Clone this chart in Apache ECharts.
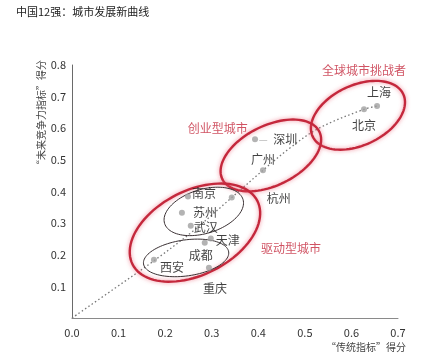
<!DOCTYPE html>
<html><head><meta charset="utf-8">
<script src="https://cdn.jsdelivr.net/npm/echarts@6/dist/echarts.min.js"></script>
<style>html,body{margin:0;padding:0;background:#fff}#c{width:440px;height:357px}</style>
</head><body><div id="c"></div>
<script>
// ---- data ----
const cities = ['上海','北京','深圳','广州','杭州','南京','苏州','武汉','天津','成都','西安','重庆'];
const traditionalScore = [0.655,0.627,0.393,0.410,0.343,0.249,0.236,0.255,0.298,0.285,0.176,0.294];
const futureScore      = [0.670,0.660,0.565,0.467,0.381,0.384,0.333,0.292,0.251,0.238,0.184,0.159];
const trendX = [0, 0.09, 0.176, 0.26, 0.343, 0.41, 0.47, 0.53, 0.627, 0.655];
const trendY = [0, 0.092, 0.181, 0.275, 0.381, 0.467, 0.54, 0.60, 0.66, 0.67];
const xTicks = [0,0.1,0.2,0.3,0.4,0.5,0.6,0.7];
const yTicks = [0.1,0.2,0.3,0.4,0.5,0.6,0.7,0.8];
const groupNames = ['全球城市挑战者','创业型城市','驱动型城市'];
const groupX = [0.627, 0.313, 0.470];
const groupY = [0.784, 0.600, 0.219];

// ---- styling / annotation config ----
const labelOffsets = {
  '上海':[2,-14],'北京':[0,16],'深圳':[23,0],'广州':[0,-11],'杭州':[47,1],'南京':[16,-3],
  '苏州':[23,0],'武汉':[15,2],'天津':[17,2],'成都':[-4,13],'西安':[18,8],'重庆':[6,21]
};
const ellipses = [
  {cx:0.614, cy:0.641, rx:50, ry:30, rot:25, red:true},
  {cx:0.427, cy:0.514, rx:54, ry:30, rot:26, red:true},
  {cx:0.264, cy:0.270, rx:70, ry:42, rot:27, red:true},
  {cx:0.283, cy:0.337, rx:41, ry:22, rot:17, red:false},
  {cx:0.245, cy:0.190, rx:43, ry:18, rot:8,  red:false}
];
const RED = '#c4283c';

const chart = echarts.init(document.getElementById('c'));
const font = '"Noto Sans CJK SC", "Noto Sans", sans-serif';

chart.setOption({
  backgroundColor:'#fff',
  animation:false,
  textStyle:{fontFamily:font},
  title:{text:'中国12强：城市发展新曲线', left:11, top:1,
    textStyle:{fontSize:11, fontWeight:'normal', color:'#222', fontFamily:font}},
  grid:{left:72, right:42, top:65, bottom:39, containLabel:false, outerBoundsMode:'none'},
  xAxis:{type:'value', min:0, max:0.7, interval:0.1,
    name:'“传统指标”得分', nameLocation:'end',
    nameGap:0,
    nameTextStyle:{fontSize:10, color:'#444', align:'right', verticalAlign:'top', padding:[24,-8,0,0]},
    axisLine:{show:true, lineStyle:{color:'#8a8a8a', width:1}},
    axisTick:{show:false}, splitLine:{show:false},
    axisLabel:{fontSize:11, color:'#333', margin:9, formatter:v=>v.toFixed(1)}},
  yAxis:{type:'value', min:0, max:0.8, interval:0.1,
    name:'“未来竞争力指标”得分', nameLocation:'end', nameRotate:90,
    nameGap:5,
    nameTextStyle:{fontSize:10, color:'#444', align:'right', verticalAlign:'bottom', padding:[0,0,26,0]},
    axisLine:{show:true, lineStyle:{color:'#6a6a6a', width:1}},
    axisTick:{show:false}, splitLine:{show:false},
    axisLabel:{fontSize:11, color:'#333', margin:6,
      formatter:v=> (v===0? '' : v.toFixed(1))}},
  series:[
    {type:'line', data:trendX.map((x,i)=>[x,trendY[i]]), smooth:0.35, symbol:'none',
      lineStyle:{color:'#777', width:1.3, type:[1.5,2.5]}, z:1},
    {type:'custom', coordinateSystem:'cartesian2d', clip:false, z:3,
      data:ellipses.map(e=>[e.cx,e.cy]),
      encode:{x:0,y:1},
      renderItem:function(params, api){
        const e = ellipses[params.dataIndex];
        const c = api.coord([api.value(0), api.value(1)]);
        const th = e.rot*Math.PI/180;
        const pts = [];
        for(let i=0;i<96;i++){
          const t=i/96*2*Math.PI;
          pts.push([c[0]+e.rx*Math.cos(t)*Math.cos(th)+e.ry*Math.sin(t)*Math.sin(th),
                    c[1]-e.rx*Math.cos(t)*Math.sin(th)+e.ry*Math.sin(t)*Math.cos(th)]);
        }
        return {type:'polygon', shape:{points:pts},
          style: e.red ? {fill:'none', stroke:RED, lineWidth:2.4, shadowBlur:4, shadowColor:'rgba(235,90,110,0.7)'}
                       : {fill:'none', stroke:'#3a3033', lineWidth:1}};
      }},
    {type:'scatter', z:4, symbolSize:6,
      itemStyle:{color:'#a0a0a0'},
      data:cities.map((n,i)=>({name:n, value:[traditionalScore[i], futureScore[i]],
        label:{offset:labelOffsets[n]}})),
      label:{show:true, position:'inside', color:'#111', fontSize:12, fontFamily:font,
        formatter:p=> p.name==='深圳' ? '{l|—}  '+p.name : p.name,
        rich:{l:{color:'#999', fontSize:10}}}},
    {type:'scatter', z:5, symbolSize:0, silent:true,
      data:groupNames.map((n,i)=>({name:n, value:[groupX[i], groupY[i]]})),
      label:{show:true, position:'inside', color:RED, fontSize:12, fontFamily:font, formatter:p=>p.name}}
  ]
});
</script></body></html>
